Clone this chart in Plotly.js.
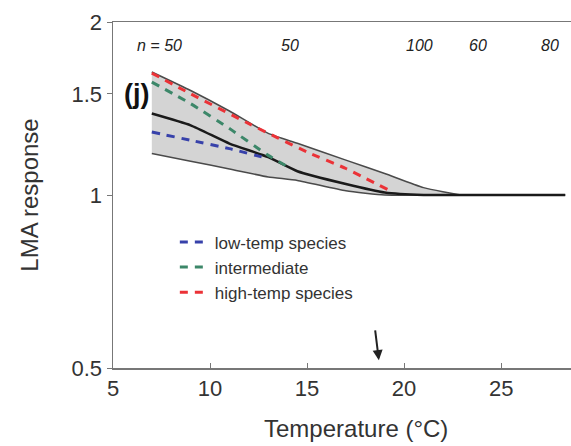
<!DOCTYPE html>
<html>
<head>
<meta charset="utf-8">
<script src="https://cdn.plot.ly/plotly-3.0.1.min.js"></script>
<style>html,body{margin:0;padding:0;background:#fff;}#chart{width:571px;height:446px;}</style>
</head>
<body>
<div id="chart"></div>
<script>
// Overall response with band
var bandTemp  = [7, 9, 11, 13, 14.5, 17, 19, 21, 23, 25, 28.3];
var bandUpper = [1.637, 1.52, 1.40, 1.28, 1.23, 1.15, 1.09, 1.03, 1.0, 1.0, 1.0];
var bandLower = [1.181, 1.145, 1.11, 1.075, 1.06, 1.017, 1.0, 1.0, 1.0, 1.0, 1.0];
var meanResp  = [1.386, 1.322, 1.229, 1.164, 1.10, 1.045, 1.01, 1.0, 1.0, 1.0, 1.0];

// Species groups
var lowTemp = [7, 9, 11, 13];
var lowResp = [1.287, 1.245, 1.204, 1.157];
var midTemp = [7, 9, 11, 13, 14.2];
var midResp = [1.572, 1.442, 1.305, 1.172, 1.11];
var highTemp = [7, 9, 12, 15, 17, 19.2];
var highResp = [1.63, 1.50, 1.331, 1.188, 1.112, 1.02];

var seriesNames = ['low-temp species', 'intermediate', 'high-temp species'];

// Sample sizes along the top
var nTemp = [7.4, 14.1, 20.8, 23.8, 27.5];
var nLabels = ['n = 50', '50', '100', '60', '80'];

var xTicks = [5, 10, 15, 20, 25];
var yTicks = [0.5, 1, 1.5, 2];
var yTickText = ['0.5', '1', '1.5', '2'];

var arrowTemp = [18.5, 18.7];
var arrowResp = [0.585, 0.516];

var font = 'Liberation Sans, Arial, Helvetica, sans-serif';
var bandLine = {color: '#4a4a4a', width: 1.5, shape: 'spline', smoothing: 0.5};

var traces = [
  {x: bandTemp, y: bandLower, mode: 'lines', line: bandLine, showlegend: false, hoverinfo: 'skip'},
  {x: bandTemp, y: bandUpper, mode: 'lines', line: bandLine, fill: 'tonexty',
   fillcolor: 'rgb(212,212,212)', showlegend: false, hoverinfo: 'skip'},
  {x: bandTemp, y: meanResp, mode: 'lines', line: {color: '#1a1a1a', width: 2.5, shape: 'spline', smoothing: 0.5}, showlegend: false},
  {x: lowTemp, y: lowResp, mode: 'lines', name: seriesNames[0],
   line: {color: 'rgb(55,65,170)', width: 3, dash: '8px,7px', shape: 'spline', smoothing: 0.5}},
  {x: midTemp, y: midResp, mode: 'lines', name: seriesNames[1],
   line: {color: 'rgb(60,135,105)', width: 3, dash: '8px,7px', shape: 'spline', smoothing: 0.5}},
  {x: highTemp, y: highResp, mode: 'lines', name: seriesNames[2],
   line: {color: 'rgb(235,50,55)', width: 3, dash: '8px,7px', shape: 'spline', smoothing: 0.5}}
];

var annotations = nLabels.map(function (t, i) {
  return {x: nTemp[i], y: 0.962, xref: 'x', yref: 'paper', text: '<i>' + t + '</i>',
          showarrow: false, font: {family: font, size: 16, color: '#222'}};
});
annotations.push({x: 6.2, y: Math.log10(1.5), xref: 'x', yref: 'y', text: '<b>(j)</b>',
  showarrow: false, font: {family: 'Liberation Sans Narrow, Arial Narrow, Liberation Sans, sans-serif', size: 27, color: '#111'}});
annotations.push({x: arrowTemp[1], y: Math.log10(arrowResp[1]), ax: arrowTemp[0], ay: Math.log10(arrowResp[0]),
  xref: 'x', yref: 'y', axref: 'x', ayref: 'y', text: '', showarrow: true,
  arrowhead: 2, arrowsize: 1, arrowwidth: 2, arrowcolor: '#222'});
annotations.push({x: 0.53, y: -0.13, xref: 'paper', yref: 'paper', yanchor: 'top', text: 'Temperature (°C)',
  showarrow: false, font: {family: font, size: 24, color: '#333'}});

var layout = {
  width: 571, height: 446,
  margin: {l: 113, r: 0, t: 22, b: 78},
  paper_bgcolor: '#fff', plot_bgcolor: '#fff',
  showlegend: true,
  legend: {x: 0.135, y: 0.415, xanchor: 'left', yanchor: 'top', bgcolor: 'rgba(0,0,0,0)', traceorder: 'normal',
           font: {family: font, size: 17, color: '#333'}, tracegroupgap: 0},
  xaxis: {range: [5, 28.6], tickvals: xTicks, ticks: 'inside', ticklen: 5, tickcolor: '#777',
          showline: true, linecolor: '#777', linewidth: 1.5, mirror: true, showgrid: false, zeroline: false,
          tickfont: {family: font, size: 22, color: '#333'}},
  yaxis: {type: 'log', range: [Math.log10(0.5), Math.log10(2)], tickvals: yTicks, ticktext: yTickText,
          ticks: 'outside', ticklen: 5, tickcolor: '#777', showline: true, linecolor: '#777', linewidth: 1.5,
          showgrid: false, zeroline: false, tickfont: {family: font, size: 22, color: '#333'},
          title: {text: 'LMA response', font: {family: font, size: 24, color: '#333'}, standoff: 26}},
  shapes: [{type: 'line', xref: 'paper', x0: 0, x1: 1, yref: 'y', y0: 0, y1: 0, layer: 'below',
            line: {color: '#666', width: 1, dash: 'dot'}}],
  annotations: annotations
};

Plotly.newPlot('chart', traces, layout, {displayModeBar: false, staticPlot: true});
</script>
</body>
</html>
